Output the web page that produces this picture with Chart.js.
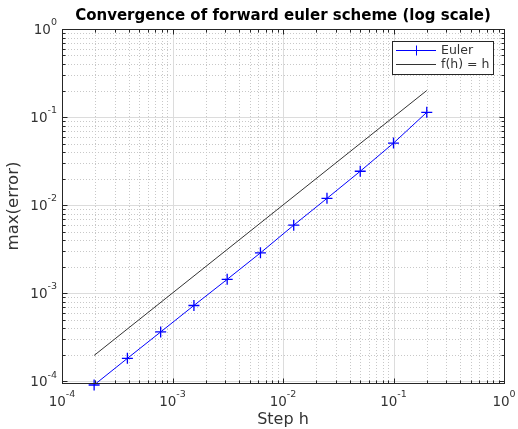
<!DOCTYPE html>
<html>
<head>
<meta charset="utf-8">
<script src="https://cdn.jsdelivr.net/npm/chart.js@4"></script>
<style>
  body { margin: 0; background: #fff; }
  canvas { display: block; }
</style>
</head>
<body>
<canvas id="convChart" width="518" height="429"></canvas>
<script>
// step sizes h and the max error of the forward euler solution
let stepH = [0.2, 0.1, 0.05, 0.025, 0.0125, 0.00625, 0.003125, 0.0015625, 0.00078125, 0.000390625, 0.0001953125];
let eulerError = [0.113, 0.0505, 0.0242, 0.0119, 0.0059, 0.00286, 0.00143, 0.000722, 0.000361, 0.000181, 0.0000902];
// reference line f(h) = h
let refH = [0.2, 0.0001953125];
let refF = [0.2, 0.0001953125];

let xDecades = [-4, -3, -2, -1, 0];
let yDecades = [-4, -3, -2, -1, 0];

let titleText = "Convergence of forward euler scheme (log scale)";
let xLabel = "Step h";
let yLabel = "max(error)";
let legendLabels = ["Euler", "f(h) = h"];

const FONT = "'DejaVu Sans', sans-serif";
const AXIS_COLOR = "#262626";
const EULER_COLOR = "#0000ff";
const REF_COLOR = "#333333";

function minorValues(decades, min, max) {
  let out = [];
  decades.forEach(p => {
    for (let m = 2; m <= 9; m++) {
      let v = m * Math.pow(10, p);
      if (v > min && v < max) out.push(v);
    }
  });
  return out;
}

function crisp(v) {
  return Math.round(v) + 0.5;
}

// draws "10" with a raised exponent, anchored by align
function drawPow(ctx, exp, px, py, align) {
  ctx.font = "13.5px " + FONT;
  let baseW = ctx.measureText("10").width;
  ctx.font = "9.5px " + FONT;
  let expW = ctx.measureText(String(exp)).width;
  let total = baseW + expW;
  let left = align === "right" ? px - total : px - total / 2;
  ctx.fillStyle = "#333";
  ctx.textBaseline = "middle";
  ctx.textAlign = "left";
  ctx.font = "13.5px " + FONT;
  ctx.fillText("10", left, py);
  ctx.font = "9.5px " + FONT;
  ctx.fillText(String(exp), left + baseW, py - 7);
}

const axesDecor = {
  id: "axesDecor",
  beforeDatasetsDraw(chart) {
    const { ctx, chartArea: a, scales: { x, y } } = chart;
    ctx.save();
    ctx.lineWidth = 1;

    // minor grid, dotted
    ctx.strokeStyle = "#c8c8c8";
    ctx.setLineDash([1, 2]);
    minorValues(xDecades, x.min, x.max).forEach(v => {
      let px = crisp(x.getPixelForValue(v));
      ctx.beginPath(); ctx.moveTo(px, a.top); ctx.lineTo(px, a.bottom); ctx.stroke();
    });
    minorValues([-5].concat(yDecades), y.min, y.max).forEach(v => {
      let py = crisp(y.getPixelForValue(v));
      ctx.beginPath(); ctx.moveTo(a.left, py); ctx.lineTo(a.right, py); ctx.stroke();
    });

    // major grid, solid
    ctx.setLineDash([]);
    ctx.strokeStyle = "#dcdcdc";
    xDecades.forEach(p => {
      let px = crisp(x.getPixelForValue(Math.pow(10, p)));
      ctx.beginPath(); ctx.moveTo(px, a.top); ctx.lineTo(px, a.bottom); ctx.stroke();
    });
    yDecades.forEach(p => {
      let py = crisp(y.getPixelForValue(Math.pow(10, p)));
      ctx.beginPath(); ctx.moveTo(a.left, py); ctx.lineTo(a.right, py); ctx.stroke();
    });
    ctx.restore();
  },
  afterDatasetsDraw(chart) {
    const { ctx, chartArea: a, scales: { x, y } } = chart;
    ctx.save();
    ctx.strokeStyle = AXIS_COLOR;
    ctx.lineWidth = 1;
    let L = crisp(a.left), R = crisp(a.right), T = crisp(a.top), B = crisp(a.bottom);

    // inward tick marks on all four sides
    let xTick = (v, len) => {
      let px = crisp(x.getPixelForValue(v));
      ctx.beginPath();
      ctx.moveTo(px, B); ctx.lineTo(px, B - len);
      ctx.moveTo(px, T); ctx.lineTo(px, T + len);
      ctx.stroke();
    };
    let yTick = (v, len) => {
      let py = crisp(y.getPixelForValue(v));
      ctx.beginPath();
      ctx.moveTo(L, py); ctx.lineTo(L + len, py);
      ctx.moveTo(R, py); ctx.lineTo(R - len, py);
      ctx.stroke();
    };
    minorValues(xDecades, x.min, x.max).forEach(v => xTick(v, 3));
    xDecades.forEach(p => xTick(Math.pow(10, p), 5));
    minorValues([-5].concat(yDecades), y.min, y.max).forEach(v => yTick(v, 3));
    yDecades.forEach(p => yTick(Math.pow(10, p), 5));

    // box
    ctx.strokeRect(L, T, R - L, B - T);

    // tick labels
    xDecades.forEach(p => drawPow(ctx, p, x.getPixelForValue(Math.pow(10, p)), a.bottom + 19, "center"));
    yDecades.forEach(p => drawPow(ctx, p, a.left - 5, y.getPixelForValue(Math.pow(10, p)) + 1, "right"));

    // title and axis labels
    ctx.fillStyle = "#000";
    ctx.textAlign = "center";
    ctx.textBaseline = "middle";
    ctx.font = "bold 15px " + FONT;
    ctx.fillText(titleText, (a.left + a.right) / 2, 16);
    ctx.fillStyle = "#333";
    ctx.font = "16px " + FONT;
    ctx.fillText(xLabel, (a.left + a.right) / 2, 420);
    ctx.save();
    ctx.translate(14, (a.top + a.bottom) / 2);
    ctx.rotate(-Math.PI / 2);
    ctx.font = "16.5px " + FONT;
    ctx.fillText(yLabel, 0, 0);
    ctx.restore();

    // legend box
    let bx = 392.5, by = 41.5, bw = 101, bh = 33;
    ctx.fillStyle = "#fff";
    ctx.fillRect(bx, by, bw, bh);
    ctx.strokeStyle = AXIS_COLOR;
    ctx.strokeRect(bx, by, bw, bh);
    let rows = [
      { y: 50.5, color: EULER_COLOR, marker: true },
      { y: 64.5, color: REF_COLOR, marker: false }
    ];
    rows.forEach((r, i) => {
      ctx.strokeStyle = r.color;
      ctx.beginPath(); ctx.moveTo(396, r.y); ctx.lineTo(436, r.y); ctx.stroke();
      if (r.marker) {
        ctx.beginPath();
        ctx.moveTo(416.5, r.y - 5); ctx.lineTo(416.5, r.y + 5);
        ctx.stroke();
      }
      ctx.fillStyle = "#333";
      ctx.textAlign = "left";
      ctx.textBaseline = "middle";
      ctx.font = "12.5px " + FONT;
      ctx.fillText(legendLabels[i], 441, r.y);
    });
    ctx.restore();
  }
};

document.addEventListener("DOMContentLoaded", function () {
  let ctx = document.getElementById("convChart").getContext("2d");

  new Chart(ctx, {
    type: "scatter",
    data: {
      datasets: [
        {
          label: legendLabels[0],
          data: stepH.map((h, i) => ({ x: h, y: eulerError[i] })),
          showLine: true,
          borderColor: EULER_COLOR,
          backgroundColor: EULER_COLOR,
          borderWidth: 1,
          pointStyle: "cross",
          pointRadius: 5.5,
          pointBorderWidth: 1.3,
          tension: 0,
          clip: false
        },
        {
          label: legendLabels[1],
          data: refH.map((h, i) => ({ x: h, y: refF[i] })),
          showLine: true,
          borderColor: REF_COLOR,
          borderWidth: 1,
          pointRadius: 0,
          tension: 0
        }
      ]
    },
    options: {
      responsive: false,
      animation: false,
      layout: { padding: { left: 62, top: 29, right: 14, bottom: 46 } },
      scales: {
        x: { type: "logarithmic", min: 1e-4, max: 1, display: false },
        y: { type: "logarithmic", min: 9.5e-5, max: 1, display: false }
      },
      plugins: {
        legend: { display: false },
        tooltip: { enabled: false }
      }
    },
    plugins: [axesDecor]
  });
});
</script>
</body>
</html>
